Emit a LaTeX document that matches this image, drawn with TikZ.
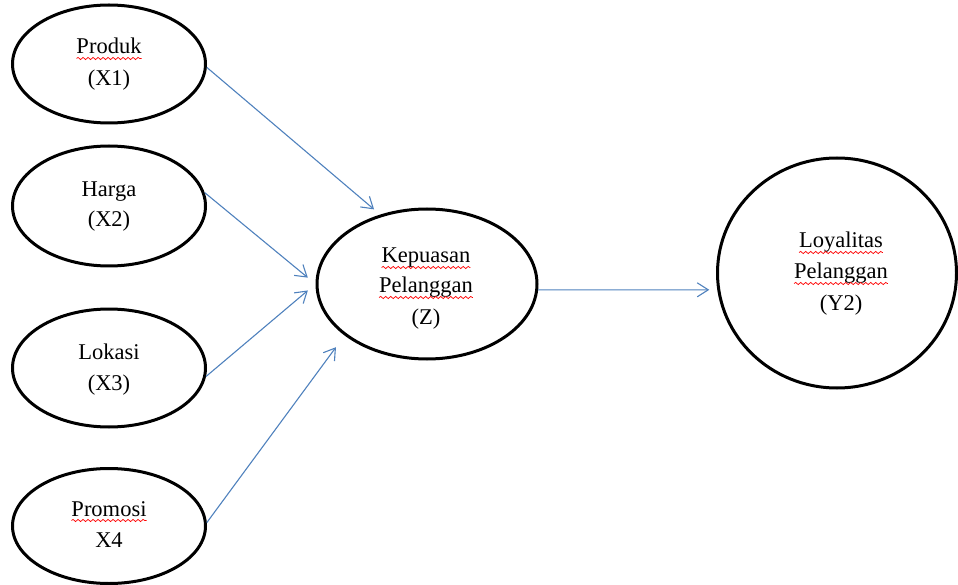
\documentclass[tikz,border=0pt]{standalone}
\usepackage{fontspec}
\setmainfont{Liberation Serif}
\usetikzlibrary{shapes.geometric,arrows.meta,decorations.pathmorphing}
\definecolor{arrowblue}{HTML}{4F81BD}
\tikzset{
  var/.style={ellipse, draw=black, line width=3pt, inner sep=0pt},
  txt/.style={anchor=base, inner sep=0pt, outer sep=0pt, font=\fontsize{22.5}{30}\selectfont},
  wave/.style={draw=red, line width=0.7pt, decorate,
               decoration={snake, amplitude=1.1pt, segment length=5pt}},
  link/.style={draw=arrowblue, line width=1.1pt, -{Straight Barb[length=11pt,width=14pt]}},
}
\begin{document}
\begin{tikzpicture}[x=1pt,y=-1pt]
\useasboundingbox (0,0) rectangle (958,585);
% ellipses
\node[var, minimum width=193pt, minimum height=118pt] (x1) at (109,64) {};
\node[var, minimum width=193pt, minimum height=120pt] (x2) at (109,206) {};
\node[var, minimum width=193pt, minimum height=118pt] (x3) at (109,368) {};
\node[var, minimum width=193pt, minimum height=115pt] (x4) at (109,526) {};
\node[var, minimum width=220pt, minimum height=150pt] (z) at (427,284) {};
\node[var, minimum width=239pt, minimum height=230pt] (y2) at (837,273) {};
% texts
\node[txt] (x1a) at (109,54) {Produk};
\node[txt] (x1b) at (109,86) {(X1)};
\node[txt] (x2a) at (109,197) {Harga};
\node[txt] (x2b) at (109,227) {(X2)};
\node[txt] (x3a) at (109,359) {Lokasi};
\node[txt] (x3b) at (109,390) {(X3)};
\node[txt] (x4a) at (109,516) {Promosi};
\node[txt] (x4b) at (109,547) {X4};
\node[txt] (za) at (426,263) {Kepuasan};
\node[txt] (zb) at (426,293) {Pelanggan};
\node[txt] (zc) at (426,324) {(Z)};
\node[txt] (ya) at (841,248) {Loyalitas};
\node[txt] (yb) at (841,279) {Pelanggan};
\node[txt] (yc) at (841,310) {(Y2)};
% spell-check waves
\foreach \n in {x1a,x4a,za,zb,ya,yb}
  \draw[wave] ([yshift=-4.5pt]\n.base west) -- ([yshift=-4.5pt]\n.base east);
% connectors
\draw[link, shorten >=8pt] (x1.-2.4) -- (z.124.6);
\draw[link, shorten >=10pt] (x2.8.3) -- (z.west);
\draw[link, shorten >=10pt] (x3.-5.4) -- (z.west);
\draw[link, shorten >=14.5pt] (x4.2.4) -- (z.212.5);
\draw[link, shorten >=8pt] (z.-3.6) -- (y2.188.5);
\end{tikzpicture}
\end{document}
